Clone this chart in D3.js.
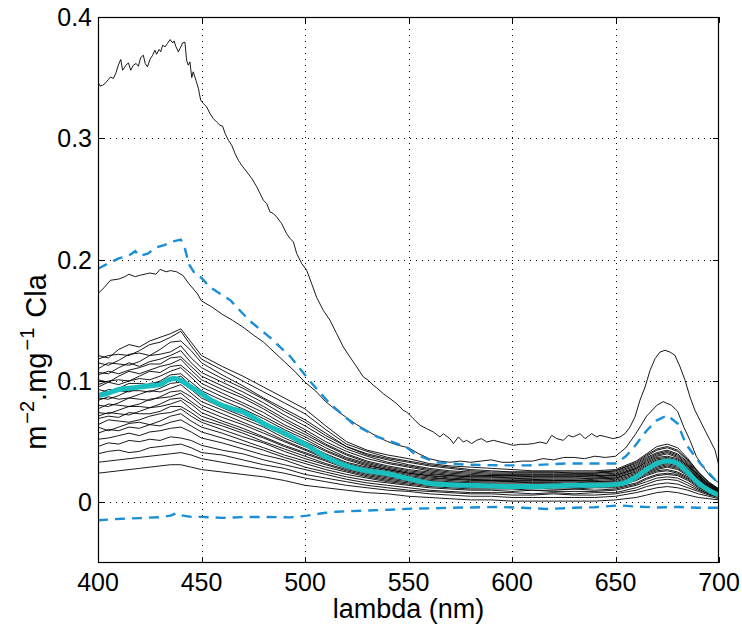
<!DOCTYPE html>
<html><head><meta charset="utf-8">
<script src="https://cdn.jsdelivr.net/npm/d3@7"></script>
<style>
body{margin:0;background:#fff}
svg{display:block}
text{font-family:"Liberation Sans",Arial,Helvetica,sans-serif;fill:#000}
</style>
</head><body>
<svg id="chart" width="742" height="629"></svg>
<script>
// ---------- data ----------
const xTicks = [400,450,500,550,600,650,700];
const yTicks = [0,0.1,0.2,0.3,0.4];
const yTickLabels = ["0","0.1","0.2","0.3","0.4"];

// common wavelength grid for the bundle of spectra
const wl = [400,405,410,415,420,425,430,435,440,445,450,460,470,480,490,500,510,520,530,540,550,560,570,580,590,600,610,620,630,640,650,660,665,670,675,680,685,690,695,700];

const s01=[.024,.025,.026,.027,.028,.029,.030,.031,.031,.029,.027,.025,.023,.021,.018,.014,.012,.010,.008,.007,.005,.004,.003,.002,.002,.001,.001,.001,.001,.001,.002,.004,.006,.008,.009,.008,.006,.004,.003,.002];
const s02=[.033,.034,.035,.036,.037,.038,.039,.040,.041,.039,.036,.033,.030,.027,.024,.020,.017,.014,.012,.010,.009,.007,.006,.005,.005,.004,.004,.004,.004,.004,.005,.008,.010,.012,.013,.012,.010,.007,.005,.003];
const s03=[.040,.042,.043,.041,.042,.045,.046,.047,.048,.045,.041,.039,.035,.031,.028,.023,.020,.017,.014,.012,.010,.009,.008,.007,.007,.006,.006,.007,.006,.006,.007,.010,.013,.015,.016,.015,.012,.009,.006,.004];
const s04=[.046,.049,.048,.051,.050,.052,.051,.054,.053,.051,.047,.043,.040,.035,.031,.027,.023,.019,.016,.014,.012,.010,.009,.008,.008,.008,.007,.008,.007,.008,.008,.012,.015,.018,.019,.018,.014,.010,.007,.004];
const s05=[.052,.053,.055,.057,.055,.058,.059,.061,.062,.058,.053,.049,.044,.039,.035,.029,.025,.021,.018,.016,.014,.012,.011,.010,.010,.009,.010,.009,.009,.009,.010,.014,.017,.020,.021,.020,.016,.011,.007,.005];
const s06=[.057,.060,.059,.062,.061,.064,.063,.066,.068,.063,.058,.053,.048,.043,.037,.032,.027,.023,.020,.017,.015,.013,.012,.011,.011,.011,.010,.010,.011,.010,.011,.015,.019,.022,.023,.022,.018,.012,.008,.005];
const s07=[.062,.059,.062,.065,.066,.064,.067,.071,.073,.067,.062,.057,.051,.045,.039,.034,.029,.025,.021,.018,.016,.014,.013,.012,.012,.012,.012,.011,.011,.012,.012,.016,.020,.023,.024,.023,.019,.013,.008,.005];
const s08=[.064,.068,.067,.066,.068,.071,.073,.074,.077,.071,.066,.060,.054,.049,.042,.036,.031,.026,.022,.019,.017,.015,.014,.013,.013,.013,.012,.013,.012,.013,.013,.018,.022,.025,.026,.024,.020,.014,.009,.006];
const s09=[.069,.071,.070,.074,.073,.073,.075,.079,.079,.074,.068,.063,.057,.050,.044,.038,.032,.027,.023,.020,.018,.016,.015,.014,.014,.013,.014,.013,.013,.013,.014,.019,.023,.026,.027,.025,.021,.015,.009,.006];
const s10=[.071,.074,.073,.072,.075,.078,.079,.081,.084,.077,.071,.065,.059,.053,.046,.040,.034,.028,.024,.021,.019,.017,.016,.015,.015,.014,.014,.014,.014,.014,.015,.020,.024,.027,.029,.027,.022,.015,.010,.006];
const s11=[.074,.073,.076,.079,.079,.078,.081,.085,.086,.081,.074,.067,.061,.054,.047,.041,.035,.029,.025,.022,.019,.017,.016,.016,.015,.015,.015,.015,.015,.015,.016,.020,.025,.028,.030,.028,.023,.016,.010,.006];
const s12=[.077,.081,.080,.079,.081,.085,.086,.087,.090,.083,.077,.070,.064,.057,.050,.043,.036,.030,.026,.023,.020,.018,.017,.016,.016,.016,.016,.016,.015,.016,.016,.021,.026,.029,.031,.029,.024,.017,.011,.007];
const s13=[.080,.079,.082,.086,.085,.084,.087,.091,.092,.087,.080,.073,.066,.059,.051,.044,.037,.031,.027,.024,.021,.019,.018,.017,.017,.017,.016,.016,.016,.017,.017,.022,.027,.030,.032,.030,.025,.017,.011,.007];
const s14=[.084,.087,.085,.086,.089,.092,.091,.094,.097,.090,.083,.076,.069,.062,.053,.046,.039,.032,.028,.025,.022,.020,.019,.018,.018,.017,.017,.017,.017,.017,.018,.023,.028,.031,.033,.031,.026,.018,.012,.007];
const s15=[.086,.085,.088,.092,.092,.091,.094,.098,.099,.093,.086,.078,.071,.064,.055,.048,.040,.033,.029,.026,.023,.021,.019,.019,.018,.018,.018,.018,.018,.018,.019,.024,.029,.033,.034,.032,.027,.019,.012,.008];
const s16=[.089,.093,.092,.091,.094,.098,.099,.101,.104,.096,.089,.081,.074,.066,.057,.050,.042,.035,.030,.027,.024,.022,.020,.019,.019,.019,.019,.018,.018,.019,.020,.025,.030,.034,.035,.033,.027,.019,.013,.008];
const s17=[.093,.091,.094,.098,.098,.097,.100,.105,.106,.099,.092,.084,.077,.069,.060,.052,.043,.036,.031,.027,.024,.022,.021,.020,.020,.020,.019,.019,.019,.020,.020,.026,.031,.035,.036,.034,.028,.020,.013,.008];
const s18=[.095,.099,.097,.100,.102,.101,.104,.108,.111,.103,.095,.087,.080,.071,.062,.054,.045,.037,.032,.028,.025,.023,.022,.021,.021,.020,.020,.020,.020,.020,.021,.027,.032,.036,.037,.035,.029,.020,.013,.008];
const s19=[.097,.100,.101,.100,.104,.108,.107,.112,.113,.106,.098,.090,.082,.074,.064,.056,.047,.039,.033,.029,.026,.024,.022,.021,.021,.021,.021,.021,.021,.021,.022,.028,.033,.037,.038,.036,.030,.021,.014,.009];
const s20=[.101,.099,.104,.108,.106,.109,.112,.114,.118,.109,.101,.093,.086,.077,.067,.058,.048,.040,.034,.030,.027,.025,.023,.022,.022,.022,.021,.021,.021,.022,.022,.028,.034,.038,.040,.037,.030,.021,.014,.009];
const s21=[.105,.108,.106,.109,.111,.114,.114,.119,.120,.112,.104,.096,.088,.079,.069,.060,.050,.042,.036,.032,.029,.026,.024,.023,.022,.022,.022,.022,.022,.022,.023,.029,.035,.039,.041,.038,.031,.022,.015,.009];
const s22=[.107,.106,.111,.115,.112,.116,.118,.121,.125,.115,.107,.099,.091,.082,.072,.063,.053,.044,.038,.033,.030,.027,.025,.024,.023,.023,.023,.023,.023,.023,.024,.030,.036,.040,.042,.039,.032,.022,.015,.010];
const s23=[.110,.115,.114,.113,.116,.121,.122,.124,.129,.119,.111,.102,.094,.085,.075,.066,.055,.046,.039,.035,.031,.028,.026,.025,.024,.024,.024,.024,.024,.024,.025,.031,.037,.041,.043,.040,.033,.023,.015,.010];
const s24=[.115,.113,.117,.122,.123,.121,.126,.132,.133,.125,.115,.105,.096,.086,.077,.068,.057,.046,.040,.036,.033,.030,.028,.026,.025,.025,.025,.025,.024,.024,.026,.032,.038,.043,.045,.042,.034,.024,.016,.010];
const s25=[.118,.121,.122,.121,.125,.130,.132,.136,.141,.129,.118,.109,.100,.091,.082,.073,.060,.048,.042,.037,.034,.031,.029,.027,.026,.025,.025,.025,.025,.025,.026,.033,.039,.044,.046,.043,.035,.025,.016,.011];
const s26=[.121,.119,.126,.130,.128,.133,.136,.139,.143,.132,.121,.112,.104,.095,.086,.077,.063,.050,.043,.039,.036,.032,.030,.029,.028,.027,.026,.026,.026,.026,.027,.034,.040,.046,.048,.045,.036,.025,.017,.011];
const bundle = [s01,s02,s03,s04,s05,s06,s07,s08,s09,s10,s11,s12,s13,s14,s15,s16,s17,s18,s19,s20,s21,s22,s23,s24,s25,s26];

// highest spectrum (finely sampled)
const topWl = [400,401,402.3,403.4,405,406.1,407.4,408.7,409.8,411,411.9,413.5,414.7,415.8,417.1,418.4,419.5,420.6,421.9,422.8,423.9,425.1,426.4,427.5,428.3,429.5,430.3,431.2,432.4,433.5,434.8,436.1,436.7,437.7,438.8,440,440.9,442,442.8,443.6,444.4,445.3,446,447.3,448.5,449.6,450.9,452.5,454.1,455.7,457.3,458.9,460.2,461.4,463,464.6,466.2,467.8,469.4,471.9,474.3,476.7,478.3,479.9,481.5,483.1,484.7,486.3,488.7,491.1,492.8,494.4,496,498.4,500.8,503.2,505.6,508.8,512.1,515.3,518.5,521.7,525,528.2,530.6,533,534.6,537.8,541.1,544.3,547.5,549.1,552.3,555.6,558.8,562,565.2,566.8,570,571.7,574.1,576.5,578.1,580.5,582.9,585.3,587.8,591,594.2,597.4,600.6,603.9,607.1,610.3,613.5,616.7,619.2,621.6,624.8,627.2,629.6,632.9,635.3,638.5,640.9,642.5,645.7,648.9,652.2,654.6,657,659.4,661.8,664.3,666.7,669.1,671.5,673.9,676.3,678.7,681.2,683.6,686,688.4,690.8,693.2,695.7,698.1,700];
const topVals = [.3465,.343,.3438,.3452,.3484,.3506,.3493,.354,.3603,.365,.3561,.3603,.3622,.3561,.3603,.3617,.3594,.3666,.3685,.3617,.3589,.365,.3685,.3726,.3693,.3732,.3713,.3768,.3754,.3781,.3814,.3787,.3803,.3754,.3713,.3754,.3787,.3792,.3644,.3603,.363,.3501,.3548,.3479,.3411,.3314,.3287,.3259,.3204,.3163,.3135,.3108,.31,.304,.2984,.2943,.2875,.2819,.2778,.2723,.2669,.26,.2545,.249,.2462,.2393,.238,.2352,.2298,.2215,.2174,.2146,.205,.1968,.1913,.1803,.169,.1583,.15,.139,.1281,.1198,.1116,.1033,.1006,.0965,.0945,.0896,.0855,.0813,.0758,.0745,.069,.0635,.0607,.058,.0539,.0566,.0525,.0484,.0539,.0497,.0511,.0484,.0511,.0525,.0497,.0511,.0497,.0484,.047,.0478,.0478,.0484,.0497,.0484,.0552,.0525,.0511,.0552,.0539,.0566,.0525,.0566,.0539,.0552,.0539,.0525,.0539,.0566,.0621,.0704,.0841,.0951,.1088,.1184,.1239,.1253,.1239,.1212,.1116,.1006,.0868,.0758,.0676,.0594,.0511,.0429,.030];

// second-highest spectrum
const secWl = [400,403,406,410,413,415,418,420,425,428,430,433,435,438,441,444,448,450,455,460,465,470,475,480,485,490,495,500,505,510,515,520,525,530,535,540,545,550,555,560,565,570,575,580,585,590,595,600,605,610,615,620,625,630,635,640,645,650,655,660,665,670,673,677,680,683,686,689,692,696,700];
const secVals = [.172,.177,.183,.184,.186,.188,.186,.187,.189,.188,.192,.190,.191,.190,.187,.180,.172,.166,.161,.155,.150,.1445,.138,.132,.124,.116,.108,.099,.092,.083,.076,.070,.064,.059,.054,.050,.047,.045,.040,.036,.034,.033,.034,.033,.034,.035,.033,.033,.034,.034,.036,.035,.037,.037,.036,.038,.037,.038,.045,.057,.071,.080,.083,.080,.075,.062,.051,.038,.030,.021,.016];

// mean + std (upper dashed) and mean - std (lower dashed)
const upWl = [400,405,410,415,418,420,424,428,432,436,440,442,444,447,450,454,459,464,473,483,493,502,512,523,535,549,553,563,578,594,608,626,642,650,655,659,665,670,675,680,684,691,699,700];
const upVals = [.1925,.197,.201,.2035,.207,.203,.205,.210,.212,.215,.2165,.209,.196,.188,.185,.1775,.172,.1665,.150,.136,.120,.1006,.0814,.065,.054,.0456,.040,.033,.031,.0305,.0305,.032,.032,.032,.038,.0456,.059,.0676,.0717,.065,.048,.032,.0168,.016];
const loWl = [400,405,412,420,430,435,438,441,445,450,460,470,480,493,501,509,515,528,541,551,560,570,580,594,605,617,630,640,652,660,670,680,690,700];
const loVals = [-.0148,-.0142,-.0135,-.013,-.0122,-.011,-.0088,-.011,-.012,-.012,-.0128,-.0122,-.012,-.0124,-.011,-.0088,-.0077,-.0069,-.0061,-.0052,-.005,-.0045,-.0042,-.0038,-.0045,-.0055,-.0045,-.004,-.0025,-.0035,-.0042,-.0038,-.0045,-.0045];

// mean spectrum (cyan)
const meanWl = [400,405,410,415,420,425,430,434,437,440,445,450,455,460,465,470,475,480,490,500,510,520,530,540,550,560,570,580,590,600,610,620,630,640,650,655,660,665,670,675,678,680,685,690,695,700];
const meanVals = [.088,.090,.093,.094,.095,.096,.097,.101,.102,.1005,.095,.0896,.084,.080,.077,.0745,.070,.065,.057,.048,.0375,.030,.026,.0235,.0195,.0158,.0145,.014,.0135,.013,.013,.0135,.014,.014,.0148,.0165,.021,.027,.032,.034,.0335,.032,.0245,.016,.010,.0058];

// ---------- drawing ----------
const svg = d3.select("#chart");
const L=98, R=719, T=17, B=563;
const x = d3.scaleLinear().domain([400,700]).range([L,R]);
const y = d3.scaleLinear().domain([-0.05,0.4]).range([B,T]);

// grid
const grid = svg.append("g").attr("stroke","#000").attr("stroke-width",1).attr("stroke-dasharray","1,5");
grid.selectAll("line.v").data(xTicks.slice(1,-1)).join("line")
  .attr("x1",d=>Math.round(x(d))+0.5).attr("x2",d=>Math.round(x(d))+0.5).attr("y1",T).attr("y2",B);
grid.selectAll("line.h").data(yTicks.slice(0,-1)).join("line")
  .attr("y1",d=>Math.round(y(d))+0.5).attr("y2",d=>Math.round(y(d))+0.5).attr("x1",L).attr("x2",R);

svg.append("clipPath").attr("id","pc").append("rect")
  .attr("x",L).attr("y",T).attr("width",R-L).attr("height",B-T);
const plot = svg.append("g").attr("clip-path","url(#pc)");

const lineGrid = d3.line().x((d,i)=>x(wl[i])).y(d=>y(d));
plot.selectAll("path.sp").data(bundle).join("path")
  .attr("class","sp").attr("d",lineGrid)
  .attr("fill","none").attr("stroke","#000").attr("stroke-width",0.9);

function pairLine(ws, vs){ return d3.line().x((d,i)=>x(ws[i])).y(d=>y(d))(vs); }
plot.append("path").attr("d",pairLine(topWl,topVals)).attr("fill","none").attr("stroke","#000").attr("stroke-width",0.9);
plot.append("path").attr("d",pairLine(secWl,secVals)).attr("fill","none").attr("stroke","#000").attr("stroke-width",0.9);

plot.append("path").attr("d",pairLine(upWl,upVals)).attr("fill","none")
  .attr("stroke","#1a8fd6").attr("stroke-width",2.4).attr("stroke-dasharray","10,7");
plot.append("path").attr("d",pairLine(loWl,loVals)).attr("fill","none")
  .attr("stroke","#1a8fd6").attr("stroke-width",2.4).attr("stroke-dasharray","10,7");

plot.append("path").attr("d",d3.line().curve(d3.curveMonotoneX).x((d,i)=>x(meanWl[i])).y(d=>y(d))(meanVals))
  .attr("fill","none").attr("stroke","#19bfbf").attr("stroke-width",5).attr("stroke-linejoin","round");

// frame
svg.append("rect").attr("x",L+0.5).attr("y",T+0.5).attr("width",R-L-1).attr("height",B-T-1)
  .attr("fill","none").attr("stroke","#000").attr("stroke-width",1.2);

// ticks (inward, all sides)
const tk = svg.append("g").attr("stroke","#000").attr("stroke-width",1);
xTicks.forEach(v=>{
  const px = Math.round(x(v))+0.5;
  tk.append("line").attr("x1",px).attr("x2",px).attr("y1",B).attr("y2",B-6);
  tk.append("line").attr("x1",px).attr("x2",px).attr("y1",T).attr("y2",T+6);
});
yTicks.forEach(v=>{
  const py = Math.round(y(v))+0.5;
  tk.append("line").attr("x1",L).attr("x2",L+6).attr("y1",py).attr("y2",py);
  tk.append("line").attr("x1",R).attr("x2",R-6).attr("y1",py).attr("y2",py);
});

// tick labels
svg.append("g").selectAll("text").data(xTicks).join("text")
  .attr("x",d=>x(d)).attr("y",591).attr("text-anchor","middle")
  .attr("font-size",25).text(d=>d);
svg.append("g").selectAll("text").data(yTicks).join("text")
  .attr("x",92).attr("y",d=>y(d)+9).attr("text-anchor","end")
  .attr("font-size",25).text((d,i)=>yTickLabels[i]);

// axis titles
svg.append("text").attr("x",(L+R)/2).attr("y",618).attr("text-anchor","middle")
  .attr("font-size",27).text("lambda (nm)");
const yl = svg.append("text").attr("transform","translate(46,362) rotate(-90)")
  .attr("text-anchor","middle").attr("font-size",29);
yl.append("tspan").text("m");
yl.append("tspan").attr("font-size",20).attr("dy",-12).attr("dx",2).text("−2");
yl.append("tspan").attr("dy",12).text(".mg");
yl.append("tspan").attr("font-size",20).attr("dy",-12).attr("dx",2).text("−1");
yl.append("tspan").attr("dy",12).attr("dx",2).text(" Cla");
</script>
</body></html>
